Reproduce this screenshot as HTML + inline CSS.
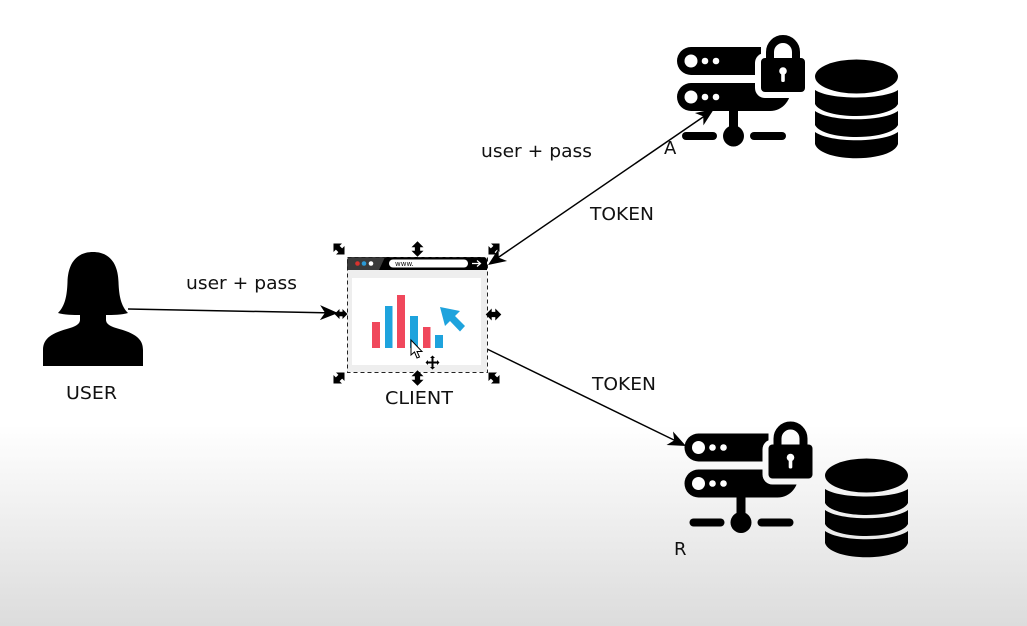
<!DOCTYPE html>
<html>
<head>
<meta charset="utf-8">
<style>
html,body{margin:0;padding:0;background:#fff;}
body{width:1027px;height:626px;overflow:hidden;}
svg{display:block;}
text{font-family:"DejaVu Sans","Liberation Sans",sans-serif;font-size:18px;fill:#111;}
</style>
</head>
<body>
<svg width="1027" height="626" viewBox="0 0 1027 626" xmlns="http://www.w3.org/2000/svg">
<defs>
<linearGradient id="bg" x1="0" y1="0" x2="0" y2="1">
<stop offset="0" stop-color="#ffffff"/>
<stop offset="1" stop-color="#dcdcdc"/>
</linearGradient>
<mask id="halo" maskUnits="userSpaceOnUse" x="660" y="30" width="170" height="125">
<rect x="660" y="30" width="170" height="125" fill="#fff"/>
<rect x="755" y="53" width="60" height="45" rx="10" fill="#000"/>
</mask>
<g id="server">
<g mask="url(#halo)">
<path d="M691 47H761V75H691A14 14 0 0 1 691 47Z" fill="#000"/>
<path d="M691 83H792C792 100 783 111 770 111H691A14 14 0 0 1 691 83Z" fill="#000"/>
</g>
<rect x="729" y="108" width="9" height="22" fill="#000"/>
<circle cx="733.500" cy="136" r="10.500" fill="#000"/>
<rect x="682" y="132" width="35" height="8" rx="4" fill="#000"/>
<rect x="750" y="132" width="36" height="8" rx="4" fill="#000"/>
<circle cx="691" cy="61" r="6.500" fill="#fff"/>
<circle cx="705" cy="61" r="3.300" fill="#fff"/>
<circle cx="716" cy="61" r="3.300" fill="#fff"/>
<circle cx="691" cy="97" r="6.500" fill="#fff"/>
<circle cx="705" cy="97" r="3.300" fill="#fff"/>
<circle cx="716" cy="97" r="3.300" fill="#fff"/>
<path d="M770 62V52A13 13 0 0 1 796 52V62" fill="none" stroke="#000" stroke-width="8"/>
<rect x="761" y="58" width="44" height="34" rx="4" fill="#000"/>
<circle cx="783" cy="71" r="3.800" fill="#fff"/>
<rect x="781.200" y="71" width="3.600" height="11" rx="1.500" fill="#fff"/>
</g>
<g id="db">
<ellipse cx="856.500" cy="76.500" rx="41.500" ry="17" fill="#000"/>
<path d="M815 90C830 100 883 100 898 90V104C890 120 823 120 815 104Z" fill="#000"/>
<path d="M815 111C830 122 883 122 898 111V125C890 141 823 141 815 125Z" fill="#000"/>
<path d="M815 132C830 143 883 143 898 132V144C892 163 821 163 815 144Z" fill="#000"/>
</g>
<path id="head" d="M0 0L-18 -7.500L-13 0L-18 7.500Z" fill="#000"/>
<g id="h"><path d="M-6.500 0L-1.500 -5V-2.200H1.500V-5L6.500 0L1.500 5V2.200H-1.500V5Z" fill="#000"/></g>
</defs>

<rect x="0" y="0" width="1027" height="626" fill="#fff"/>
<rect x="0" y="425" width="1027" height="201" fill="url(#bg)"/>

<!-- user -->
<path d="M93 252C76 252 68 264 67.500 282C67 296 65 306 58 313C64 315 74 315 80 315V320Q80 325 70 328C52 333 43 338 43 350V366H143V350C143 338 134 333 116 328Q106 325 106 320V315C112 315 122 315 128 313C121 306 119 296 118.500 282C118 264 110 252 93 252Z" fill="#000"/>

<!-- connectors -->
<line x1="128" y1="309" x2="336" y2="313" stroke="#000" stroke-width="1.500"/>
<line x1="496" y1="259" x2="706" y2="115" stroke="#000" stroke-width="1.500"/>
<line x1="487" y1="349" x2="676" y2="441" stroke="#000" stroke-width="1.500"/>

<!-- client -->
<rect x="347" y="257" width="140" height="115" fill="#eeeeee"/>
<rect x="352" y="278" width="129" height="87" fill="#fff"/>
<path d="M351 257H483Q487 257 487 261V270H347V261Q347 257 351 257Z" fill="#000"/>
<path d="M351 257H385L379 270H347V261Q347 257 351 257Z" fill="#3a3a3a"/>
<circle cx="357.500" cy="263.500" r="2.300" fill="#d8322e"/>
<circle cx="364" cy="263.500" r="2.300" fill="#2a9ad6"/>
<circle cx="371" cy="263.500" r="2.300" fill="#fff"/>
<rect x="389" y="259.500" width="79" height="8" rx="4" fill="#fff"/>
<text x="395" y="266" style="font-size:7px" fill="#333">www.</text>
<path d="M472 263.500H480M477 260.500L480.500 263.500L477 266.500" fill="none" stroke="#fff" stroke-width="1.200"/>
<rect x="372" y="322" width="8" height="26" fill="#f0485c"/>
<rect x="385" y="306" width="7.500" height="42" fill="#1ea3dd"/>
<rect x="397" y="295" width="8" height="53" fill="#f0485c"/>
<rect x="410" y="316" width="8" height="32" fill="#1ea3dd"/>
<rect x="423" y="327" width="7.500" height="21" fill="#f0485c"/>
<rect x="435" y="335" width="8" height="13" fill="#1ea3dd"/>
<path d="M440 307L460 311L455 316L465 326L460 331.500L450 321L445 326Z" fill="#1ea3dd"/>
<rect x="347.500" y="257.500" width="140" height="115" fill="none" stroke="#222" stroke-width="1" stroke-dasharray="4 3"/>

<!-- arrowheads -->
<use href="#head" transform="translate(338,313) rotate(1)"/>
<use href="#head" transform="translate(488,265) rotate(145.500)"/>
<use href="#head" transform="translate(714,109) rotate(-34.500)"/>
<use href="#head" transform="translate(686,446) rotate(25.500)"/>

<!-- cursor -->
<path d="M411 340V355L414.500 352L417 358L419.500 357L417 351.500H422Z" fill="#fff" stroke="#000" stroke-width="1"/>
<path d="M432.500 355.500L435 358H433.500V361.500H437V360L439.500 362.500L437 365V363.500H433.500V367H435L432.500 369.500L430 367H431.500V363.500H428V365L425.500 362.500L428 360V361.500H431.500V358H430Z" fill="#000"/>

<!-- handles -->
<g transform="translate(339,249) rotate(45) scale(1.200)"><use href="#h"/></g>
<g transform="translate(417.500,249) rotate(90) scale(1.200)"><use href="#h"/></g>
<g transform="translate(494,249) rotate(-45) scale(1.200)"><use href="#h"/></g>
<g transform="translate(493.500,314.500) scale(1.200)"><use href="#h"/></g>
<g transform="translate(339,378) rotate(-45) scale(1.200)"><use href="#h"/></g>
<g transform="translate(417.500,378) rotate(90) scale(1.200)"><use href="#h"/></g>
<g transform="translate(494,378) rotate(45) scale(1.200)"><use href="#h"/></g>
<g transform="translate(341,314)"><use href="#h"/></g>

<!-- servers -->
<use href="#server"/>
<use href="#db"/>
<use href="#server" transform="translate(7.500,386.500)"/>
<use href="#db" transform="translate(10,399)"/>

<!-- labels -->
<text x="186" y="289" textLength="111" lengthAdjust="spacingAndGlyphs">user + pass</text>
<text x="66" y="399" textLength="51" lengthAdjust="spacingAndGlyphs">USER</text>
<text x="385" y="404" textLength="68" lengthAdjust="spacingAndGlyphs">CLIENT</text>
<text x="481" y="157" textLength="111" lengthAdjust="spacingAndGlyphs">user + pass</text>
<text x="590" y="220" textLength="64" lengthAdjust="spacingAndGlyphs">TOKEN</text>
<text x="592" y="390" textLength="64" lengthAdjust="spacingAndGlyphs">TOKEN</text>
<text x="664" y="154">A</text>
<text x="674" y="555">R</text>
</svg>
</body>
</html>
